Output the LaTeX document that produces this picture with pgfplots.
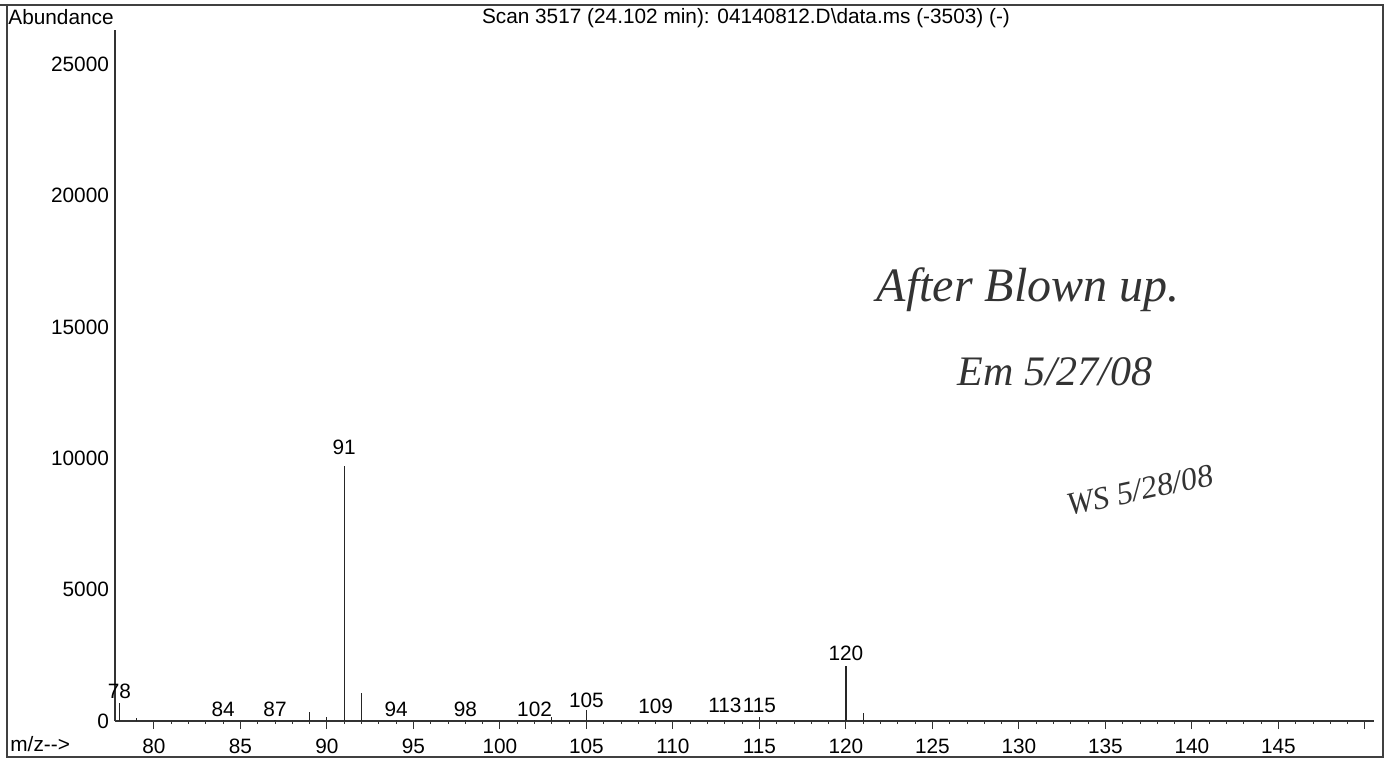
\documentclass[border=0pt]{standalone}
\usepackage{fontspec}
\setmainfont{Liberation Sans}
\newfontfamily\hand{Liberation Serif}
\usepackage{pgfplots}
\pgfplotsset{compat=1.18}
\tikzset{peaklbl/.style={anchor=base, inner sep=0pt, font=\fontsize{10.4}{12}\selectfont}}
\begin{document}
\begin{tikzpicture}[x=1pt,y=1pt]
\begin{axis}[
  at={(0,0)}, anchor=south west,
  scale only axis,
  width=629.3pt, height=345.5pt,
  xmin=77.75, xmax=150.5,
  ymin=0, ymax=26300,
  axis lines*=left,
  axis line style={black!80, line width=0.6pt},
  xtick={80,85,90,95,100,105,110,115,120,125,130,135,140,145,150},
  xticklabels={80,85,90,95,100,105,110,115,120,125,130,135,140,145,{}},
  minor x tick num=4,
  ytick={0,5000,10000,15000,20000,25000},
  scaled y ticks=false,
  tick align=outside,
  major tick length=4pt,
  minor tick length=1.5pt,
  ytick style={draw=none},
  xtick style={black!80, line width=0.5pt},
  tick label style={font=\fontsize{10.4}{12}\selectfont, black},
  yticklabel style={xshift=4.5pt},
  xticklabel style={yshift=-1.5pt},
  /pgf/number format/assume math mode=true,
  /pgf/number format/set thousands separator={},
  clip=false,
]
\addplot[ycomb, black!85, line width=0.55pt, mark=none] coordinates {
  (78,690) (79,110) (84,50) (87,50) (89,340) (90,150) (91,9700) (92,1070)
  (94,50) (98,50) (102,50) (103,150) (105,420) (109,50) (113,50) (115,150)
  (120,2100) (121,300)
};
\node[peaklbl] at (axis cs:78,840) {78};
\node[peaklbl] at (axis cs:84,190) {84};
\node[peaklbl] at (axis cs:87,190) {87};
\node[peaklbl] at (axis cs:91,10150) {91};
\node[peaklbl] at (axis cs:94,190) {94};
\node[peaklbl] at (axis cs:98,190) {98};
\node[peaklbl] at (axis cs:102,190) {102};
\node[peaklbl] at (axis cs:105,530) {105};
\node[peaklbl] at (axis cs:109,270) {109};
\node[peaklbl] at (axis cs:113,340) {113};
\node[peaklbl] at (axis cs:115,340) {115};
\node[peaklbl] at (axis cs:120,2290) {120};
\end{axis}
% frame
\draw[black!75, line width=0.8pt] (-54pt,-18pt) rectangle (634pt,358pt);
\draw[black!75, line width=0.8pt] (-57.5pt,358pt) -- (-54pt,358pt);
\node[anchor=base west, inner sep=0pt, font=\fontsize{10.4}{12}\selectfont] at (-53.5pt,348pt) {Abundance};
\node[anchor=base, inner sep=0pt, font=\fontsize{10.4}{12}\selectfont] at (315.5pt,348.5pt) {Scan 3517 (24.102 min): 04140812.D\textbackslash data.ms (-3503) (-)};
\node[anchor=base west, inner sep=0pt, font=\fontsize{10.4}{12}\selectfont] at (-52.5pt,-15.5pt) {m/z-{}-{}>};
% handwritten notes
\node[font=\hand\itshape\fontsize{24}{28}\selectfont, black!80] at (456.5pt,215.5pt) {After Blown up.};
\node[font=\hand\itshape\fontsize{21}{25}\selectfont, black!80] at (470pt,174.5pt) {Em 5/27/08};
\node[rotate=12, font=\hand\itshape\fontsize{16}{20}\selectfont, black!80] at (512.5pt,115.5pt) {WS 5/28/08};
\pgfresetboundingbox
\path[use as bounding box] (-57.5pt,-19.5pt) rectangle (636pt,360.5pt);
\end{tikzpicture}
\end{document}
